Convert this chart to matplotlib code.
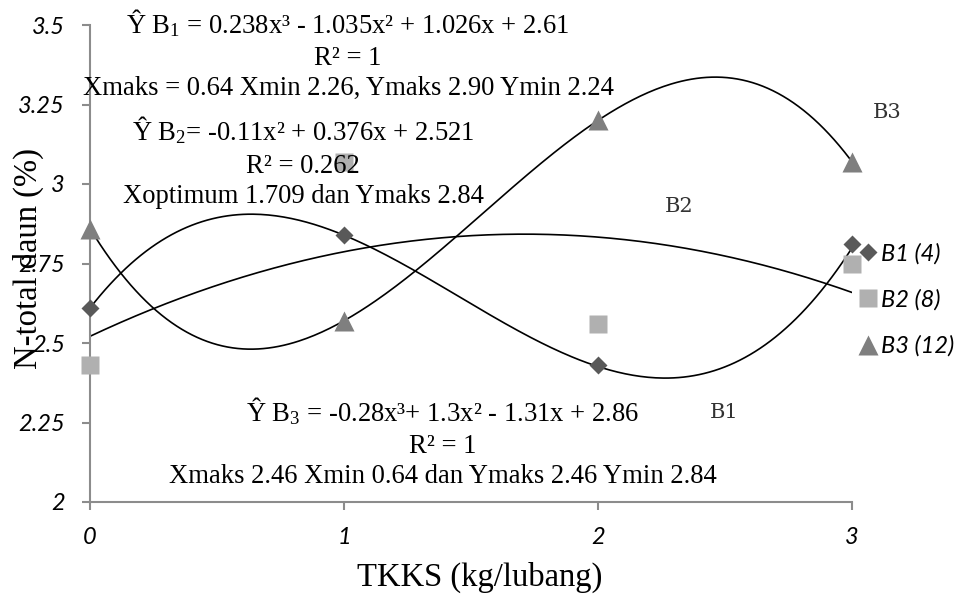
import numpy as np
import matplotlib
matplotlib.use('Agg')
import matplotlib.pyplot as plt

plt.rcParams['mathtext.fontset'] = 'custom'
plt.rcParams['mathtext.rm'] = 'Liberation Serif'
plt.rcParams['mathtext.it'] = 'Liberation Serif:italic'

# data
tkks = [0, 1, 2, 3]
b1 = [2.61, 2.84, 2.43, 2.81]
b2 = [2.43, 3.07, 2.56, 2.75]
b3 = [2.86, 2.57, 3.20, 3.07]

# trendline coefficients as printed on the chart (highest power first)
coef_b1 = [0.238, -1.035, 1.026, 2.61]
coef_b2 = [-0.11, 0.376, 2.521]
coef_b3 = [-0.28, 1.3, -1.31, 2.86]

series_names = ['B1 (4)', 'B2 (8)', 'B3 (12)']
yticks = [2, 2.25, 2.5, 2.75, 3, 3.25, 3.5]
ytick_labels = ['2', '2.25', '2.5', '2.75', '3', '3.25', '3.5']

W, H = 962, 595
fig = plt.figure(figsize=(W / 100, H / 100), dpi=100)
ax = fig.add_axes([90 / W, 1 - 502 / H, 762 / W, 477 / H])


def px(x, y):
    # figure pixel -> data coords (for placing annotation text)
    return (x - 90) / 254.0, 2 + (502 - y) / 318.0


xs = np.linspace(0, 3, 300)
ax.plot(xs, np.polyval(coef_b1, xs), color='k', lw=1.2, zorder=2)
ax.plot(xs, np.polyval(coef_b2, xs), color='k', lw=1.2, zorder=2)
ax.plot(xs, np.polyval(coef_b3, xs), color='k', lw=1.2, zorder=2)

h1, = ax.plot(tkks, b1, ls='none', marker='D', ms=9, color='#595959',
              mec='none', clip_on=False, zorder=3, label=series_names[0])
h2, = ax.plot(tkks, b2, ls='none', marker='s', ms=13, color='#b0b0b0',
              mec='none', clip_on=False, zorder=3, label=series_names[1])
h3, = ax.plot(tkks, b3, ls='none', marker='^', ms=14, color='#7f7f7f',
              mec='none', clip_on=False, zorder=3, label=series_names[2])

ax.set_xlim(0, 3)
ax.set_ylim(2, 3.5)
tick_font = {'family': 'Lato', 'style': 'italic', 'size': 17}
ax.set_xticks(tkks)
ax.set_xticklabels([str(t) for t in tkks], fontdict=tick_font)
ax.set_yticks(yticks)
ax.set_yticklabels(ytick_labels, fontdict=tick_font)
for s in ['top', 'right']:
    ax.spines[s].set_visible(False)
for s in ['left', 'bottom']:
    ax.spines[s].set_color('#8c8c8c')
    ax.spines[s].set_linewidth(1.5)
ax.tick_params(axis='both', color='#8c8c8c', width=1.5, length=6, pad=12)

ax.set_xlabel('TKKS (kg/lubang)', fontfamily='Liberation Serif', fontsize=23.5)
ax.xaxis.set_label_coords(0.512, -0.125)
ax.set_ylabel('N-total daun (%)', fontfamily='Liberation Serif', fontsize=23.5)
ax.yaxis.set_label_coords(-0.06, 0.51)

tfont = dict(fontfamily='Liberation Serif', fontsize=19.2, ha='center',
             va='baseline', zorder=4)
lines = [
    (348, 33, 'Ŷ B$_1$ = 0.238x³ - 1.035x² + 1.026x + 2.61'),
    (348, 65, 'R² = 1'),
    (348, 95, 'Xmaks = 0.64 Xmin 2.26, Ymaks 2.90 Ymin 2.24'),
    (303, 140, 'Ŷ B$_2$= -0.11x² + 0.376x + 2.521'),
    (303, 173, 'R² = 0.262'),
    (303, 203, 'Xoptimum 1.709 dan Ymaks 2.84'),
    (443, 421, 'Ŷ B$_3$ = -0.28x³+ 1.3x² - 1.31x + 2.86'),
    (443, 453, 'R² = 1'),
    (443, 483, 'Xmaks 2.46 Xmin 0.64 dan Ymaks 2.46 Ymin 2.84'),
]
for x, y, t in lines:
    ax.text(*px(x, y), t, clip_on=False, **tfont)

lfont = dict(fontfamily='DejaVu Serif', fontsize=15, color='#333333',
             ha='center', va='center')
ax.text(*px(887, 112), 'B3', clip_on=False, **lfont)
ax.text(*px(679, 206), 'B2', clip_on=False, **lfont)
ax.text(*px(724, 412), 'B1', clip_on=False, **lfont)

leg = ax.legend(handles=[h1, h2, h3], loc='center left',
                bbox_to_anchor=(1.009, 0.424), frameon=False,
                handlelength=0.75, handletextpad=0.2, labelspacing=1.05,
                borderpad=0, borderaxespad=0,
                prop={'family': 'Lato', 'style': 'italic', 'size': 17})

fig.savefig('out.png', dpi=100)
